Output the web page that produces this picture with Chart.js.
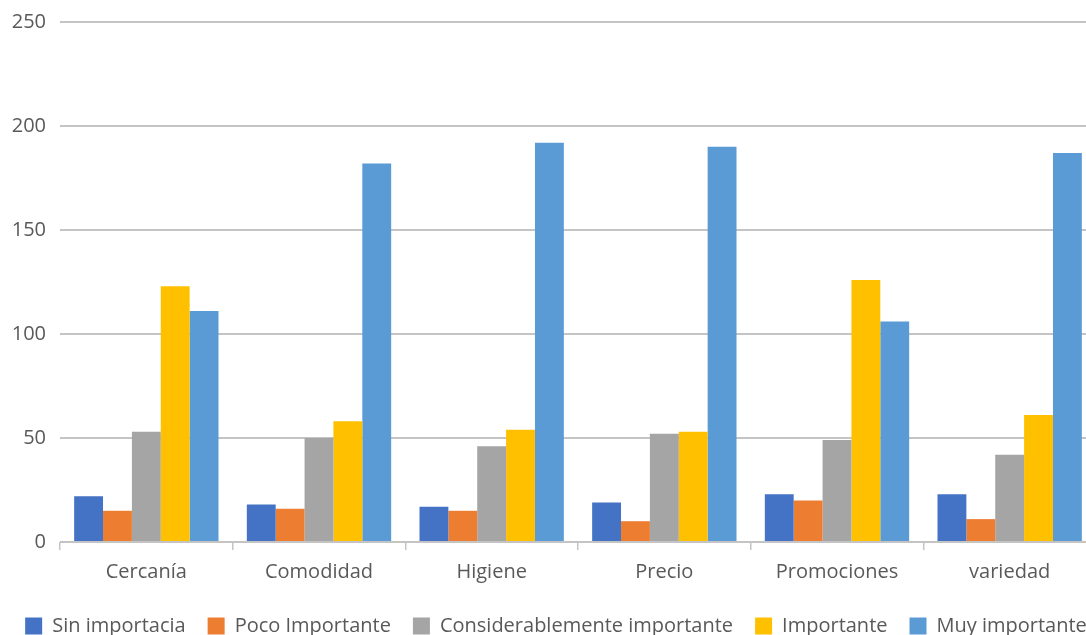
<!DOCTYPE html>
<html>
<head>
<meta charset="utf-8">
<script src="https://cdn.jsdelivr.net/npm/chart.js@4.4.1/dist/chart.umd.min.js"></script>
<style>
  html, body { margin: 0; padding: 0; background: #ffffff; overflow: hidden; }
  #wrap { position: absolute; left: 0; top: 0; width: 1112px; height: 646px; }
</style>
</head>
<body>
<div id="wrap"><canvas id="chart" width="1112" height="646"></canvas></div>
<script>
// Survey results: importance rating of each store attribute
const categories = ['Cercanía', 'Comodidad', 'Higiene', 'Precio', 'Promociones', 'variedad'];

const sinImportancia  = [22, 18, 17, 19, 23, 23];
const pocoImportante  = [15, 16, 15, 10, 20, 11];
const consideImport   = [53, 50, 46, 52, 49, 42];
const importante      = [123, 58, 54, 53, 126, 61];
const muyImportante   = [111, 182, 192, 190, 106, 187];

const seriesNames = ['Sin importacia', 'Poco Importante', 'Considerablemente importante', 'Importante', 'Muy importante'];
const seriesData = [sinImportancia, pocoImportante, consideImport, importante, muyImportante];
const seriesColors = ['#4472C4', '#ED7D31', '#A5A5A5', '#FFC000', '#5B9BD5'];

const yTicks = [0, 50, 100, 150, 200, 250];

const FONT = '"Open Sans", "DejaVu Sans", sans-serif';
const TEXT = '#595959';
const GRID = '#c4c4c4';

const datasets = seriesNames.map((name, i) => ({
  label: name,
  data: seriesData[i],
  backgroundColor: seriesColors[i],
  borderWidth: 0,
  barPercentage: 1.0,
  categoryPercentage: 0.836,
  yAxisID: 'y'
}));

new Chart(document.getElementById('chart'), {
  type: 'bar',
  data: { labels: categories, datasets },
  options: {
    responsive: false,
    animation: false,
    layout: { padding: { top: 22, left: 0, right: 0, bottom: 0 } },
    plugins: {
      tooltip: { enabled: false },
      legend: {
        position: 'bottom',
        labels: {
          boxWidth: 17,
          boxHeight: 17,
          padding: 22,
          color: TEXT,
          font: { family: FONT, size: 20 }
        }
      }
    },
    scales: {
      x: {
        offset: true,
        grid: {
          offset: true,
          drawOnChartArea: false,
          drawTicks: true,
          tickLength: 8,
          color: GRID,
          lineWidth: 1.5
        },
        border: { display: false },
        ticks: {
          color: TEXT,
          padding: 10,
          maxRotation: 0,
          font: { family: FONT, size: 20 }
        },
        afterFit(s) { s.height = 52; }
      },
      y: {
        position: 'left',
        min: 0,
        max: 250,
        afterBuildTicks(s) { s.ticks = yTicks.map(v => ({ value: v })); },
        grid: {
          drawTicks: false,
          color: GRID,
          lineWidth: 2
        },
        border: { display: false },
        ticks: {
          color: TEXT,
          padding: 14,
          font: { family: FONT, size: 20 }
        },
        afterFit(s) {
          s.width = 60;
          s.paddingTop = 0;
          s.paddingBottom = 0;
        }
      },
      rightGutter: {
        position: 'right',
        display: true,
        grid: { display: false },
        border: { display: false },
        ticks: { display: false },
        afterFit(s) {
          s.width = 16;
          s.paddingTop = 0;
          s.paddingBottom = 0;
        }
      }
    }
  }
});
</script>
</body>
</html>
